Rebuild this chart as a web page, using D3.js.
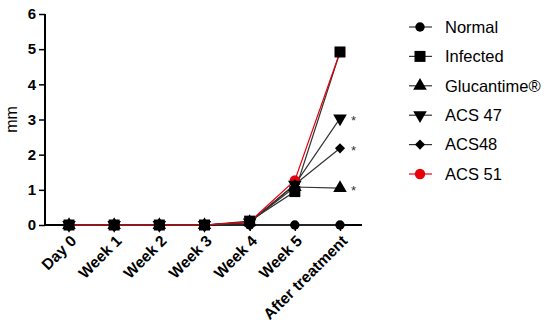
<!DOCTYPE html>
<html>
<head>
<meta charset="utf-8">
<script src="https://cdn.jsdelivr.net/npm/d3@7.9.0/dist/d3.min.js"></script>
<style>
  body { margin: 0; background: #fff; }
  svg { font-family: "Liberation Sans", Arial, sans-serif; }
</style>
</head>
<body>
<svg width="550" height="336"></svg>
<script>
// chart data
const timepoints = ['Day 0', 'Week 1', 'Week 2', 'Week 3', 'Week 4', 'Week 5', 'After treatment'];
const normal     = [0, 0, 0, 0, 0, 0, 0];
const infected   = [0, 0, 0, 0, 0.11, 0.95, 4.92];
const glucantime = [0, 0, 0, 0, 0.08, 1.08, 1.05];
const acs47      = [0, 0, 0, 0, 0.07, 1.15, 3.03];
const acs48      = [0, 0, 0, 0, 0.07, 1.15, 2.18];
const acs51      = [0, 0, 0, 0, 0.09, 1.27, 4.92];
const yTicks = [0, 1, 2, 3, 4, 5, 6];
const starred = ['ACS 47', 'ACS48', 'Glucantime®'];

const series = [
  { name: 'Normal', values: normal, symbol: d3.symbolCircle, color: '#000' },
  { name: 'Infected', values: infected, symbol: d3.symbolSquare, color: '#000' },
  { name: 'Glucantime®', values: glucantime, symbol: d3.symbolTriangle, color: '#000' },
  { name: 'ACS 47', values: acs47, symbol: 'down', color: '#000' },
  { name: 'ACS48', values: acs48, symbol: d3.symbolDiamond2, color: '#000' },
  { name: 'ACS 51', values: acs51, symbol: d3.symbolCircle, color: '#e8000b' }
];
// markers drawn so that the Infected squares end up on top
const markerOrder = ['ACS 51', 'Normal', 'Glucantime®', 'ACS 47', 'ACS48', 'Infected'];

const svg = d3.select('svg');
const x = d3.scalePoint().domain(timepoints).range([69, 340]);
const y = d3.scaleLinear().domain([0, 6]).range([225, 14]);

function markerPath(sym, isRed) {
  if (sym === 'down') return d3.symbol(d3.symbolTriangle, 80)();
  if (sym === d3.symbolSquare) return d3.symbol(sym, 121)();
  if (sym === d3.symbolDiamond2) return d3.symbol(sym, 65)();
  if (sym === d3.symbolTriangle) return d3.symbol(sym, 80)();
  return d3.symbol(sym, isRed ? 85 : 70)();
}
function markerTransform(sym, px, py) {
  return sym === 'down' ? `translate(${px},${py}) rotate(180)` : `translate(${px},${py})`;
}

// y axis
const yAxis = svg.append('g')
  .attr('transform', 'translate(45,0)')
  .call(d3.axisLeft(y).tickValues(yTicks).tickFormat(d3.format('d')).tickSize(6).tickPadding(3));
yAxis.select('.domain').attr('stroke', '#000').attr('stroke-width', 2).attr('d', `M0,${y(6)}V${y(0)}`);
yAxis.selectAll('.tick line').attr('stroke-width', 1.5);
yAxis.selectAll('.tick text').attr('font-size', 15).attr('font-weight', 'bold').attr('fill', '#000');

svg.append('text')
  .attr('transform', `translate(17,${y(3)}) rotate(-90)`)
  .attr('text-anchor', 'middle')
  .attr('font-size', 16)
  .text('mm');

// x axis
const xAxis = svg.append('g')
  .attr('transform', `translate(0,${y(0)})`)
  .call(d3.axisBottom(x).tickSize(6).tickPadding(4));
xAxis.select('.domain').attr('stroke', '#000').attr('stroke-width', 2).attr('d', 'M45,0H362');
xAxis.selectAll('.tick line').attr('stroke-width', 1.5);
xAxis.selectAll('.tick text')
  .attr('font-size', 15.5)
  .attr('font-weight', 'bold')
  .attr('fill', '#000')
  .attr('text-anchor', 'end')
  .attr('dy', '0.35em')
  .attr('transform', 'translate(4,13) rotate(-45)')
  .attr('x', 0).attr('y', 0);

// series lines
const line = d3.line().x((d, i) => x(timepoints[i])).y(d => y(d));
series.forEach(s => {
  svg.append('path')
    .attr('d', line(s.values))
    .attr('fill', 'none')
    .attr('stroke', s.color === '#000' ? '#333' : s.color)
    .attr('stroke-width', s.name === 'Normal' ? 1.5 : 1.2);
});

// markers
markerOrder.forEach(name => {
  const s = series.find(d => d.name === name);
  svg.append('g').selectAll('path')
    .data(s.values)
    .join('path')
    .attr('d', markerPath(s.symbol, s.color !== '#000'))
    .attr('transform', (d, i) => markerTransform(s.symbol, x(timepoints[i]), y(d)))
    .attr('fill', s.color);
});

// significance stars
series.filter(s => starred.includes(s.name)).forEach(s => {
  const last = s.values[s.values.length - 1];
  svg.append('text')
    .attr('x', x(timepoints[timepoints.length - 1]) + 11)
    .attr('y', y(last) + 7)
    .attr('font-size', 13)
    .attr('fill', '#333')
    .text('*');
});

// legend
const legend = svg.append('g').attr('transform', 'translate(420,27)');
series.forEach((s, i) => {
  const g = legend.append('g').attr('transform', `translate(0,${i * 29.4})`);
  g.append('line').attr('x1', -11).attr('x2', 12)
    .attr('stroke', s.color === '#000' ? '#333' : s.color).attr('stroke-width', 1.2);
  g.append('path')
    .attr('d', markerPath(s.symbol, s.color !== '#000'))
    .attr('transform', markerTransform(s.symbol, 0, 0))
    .attr('fill', s.color);
  g.append('text')
    .attr('x', 25)
    .attr('dy', '0.35em')
    .attr('font-size', 16.5)
    .attr('fill', '#000')
    .text(s.name);
});
</script>
</body>
</html>
